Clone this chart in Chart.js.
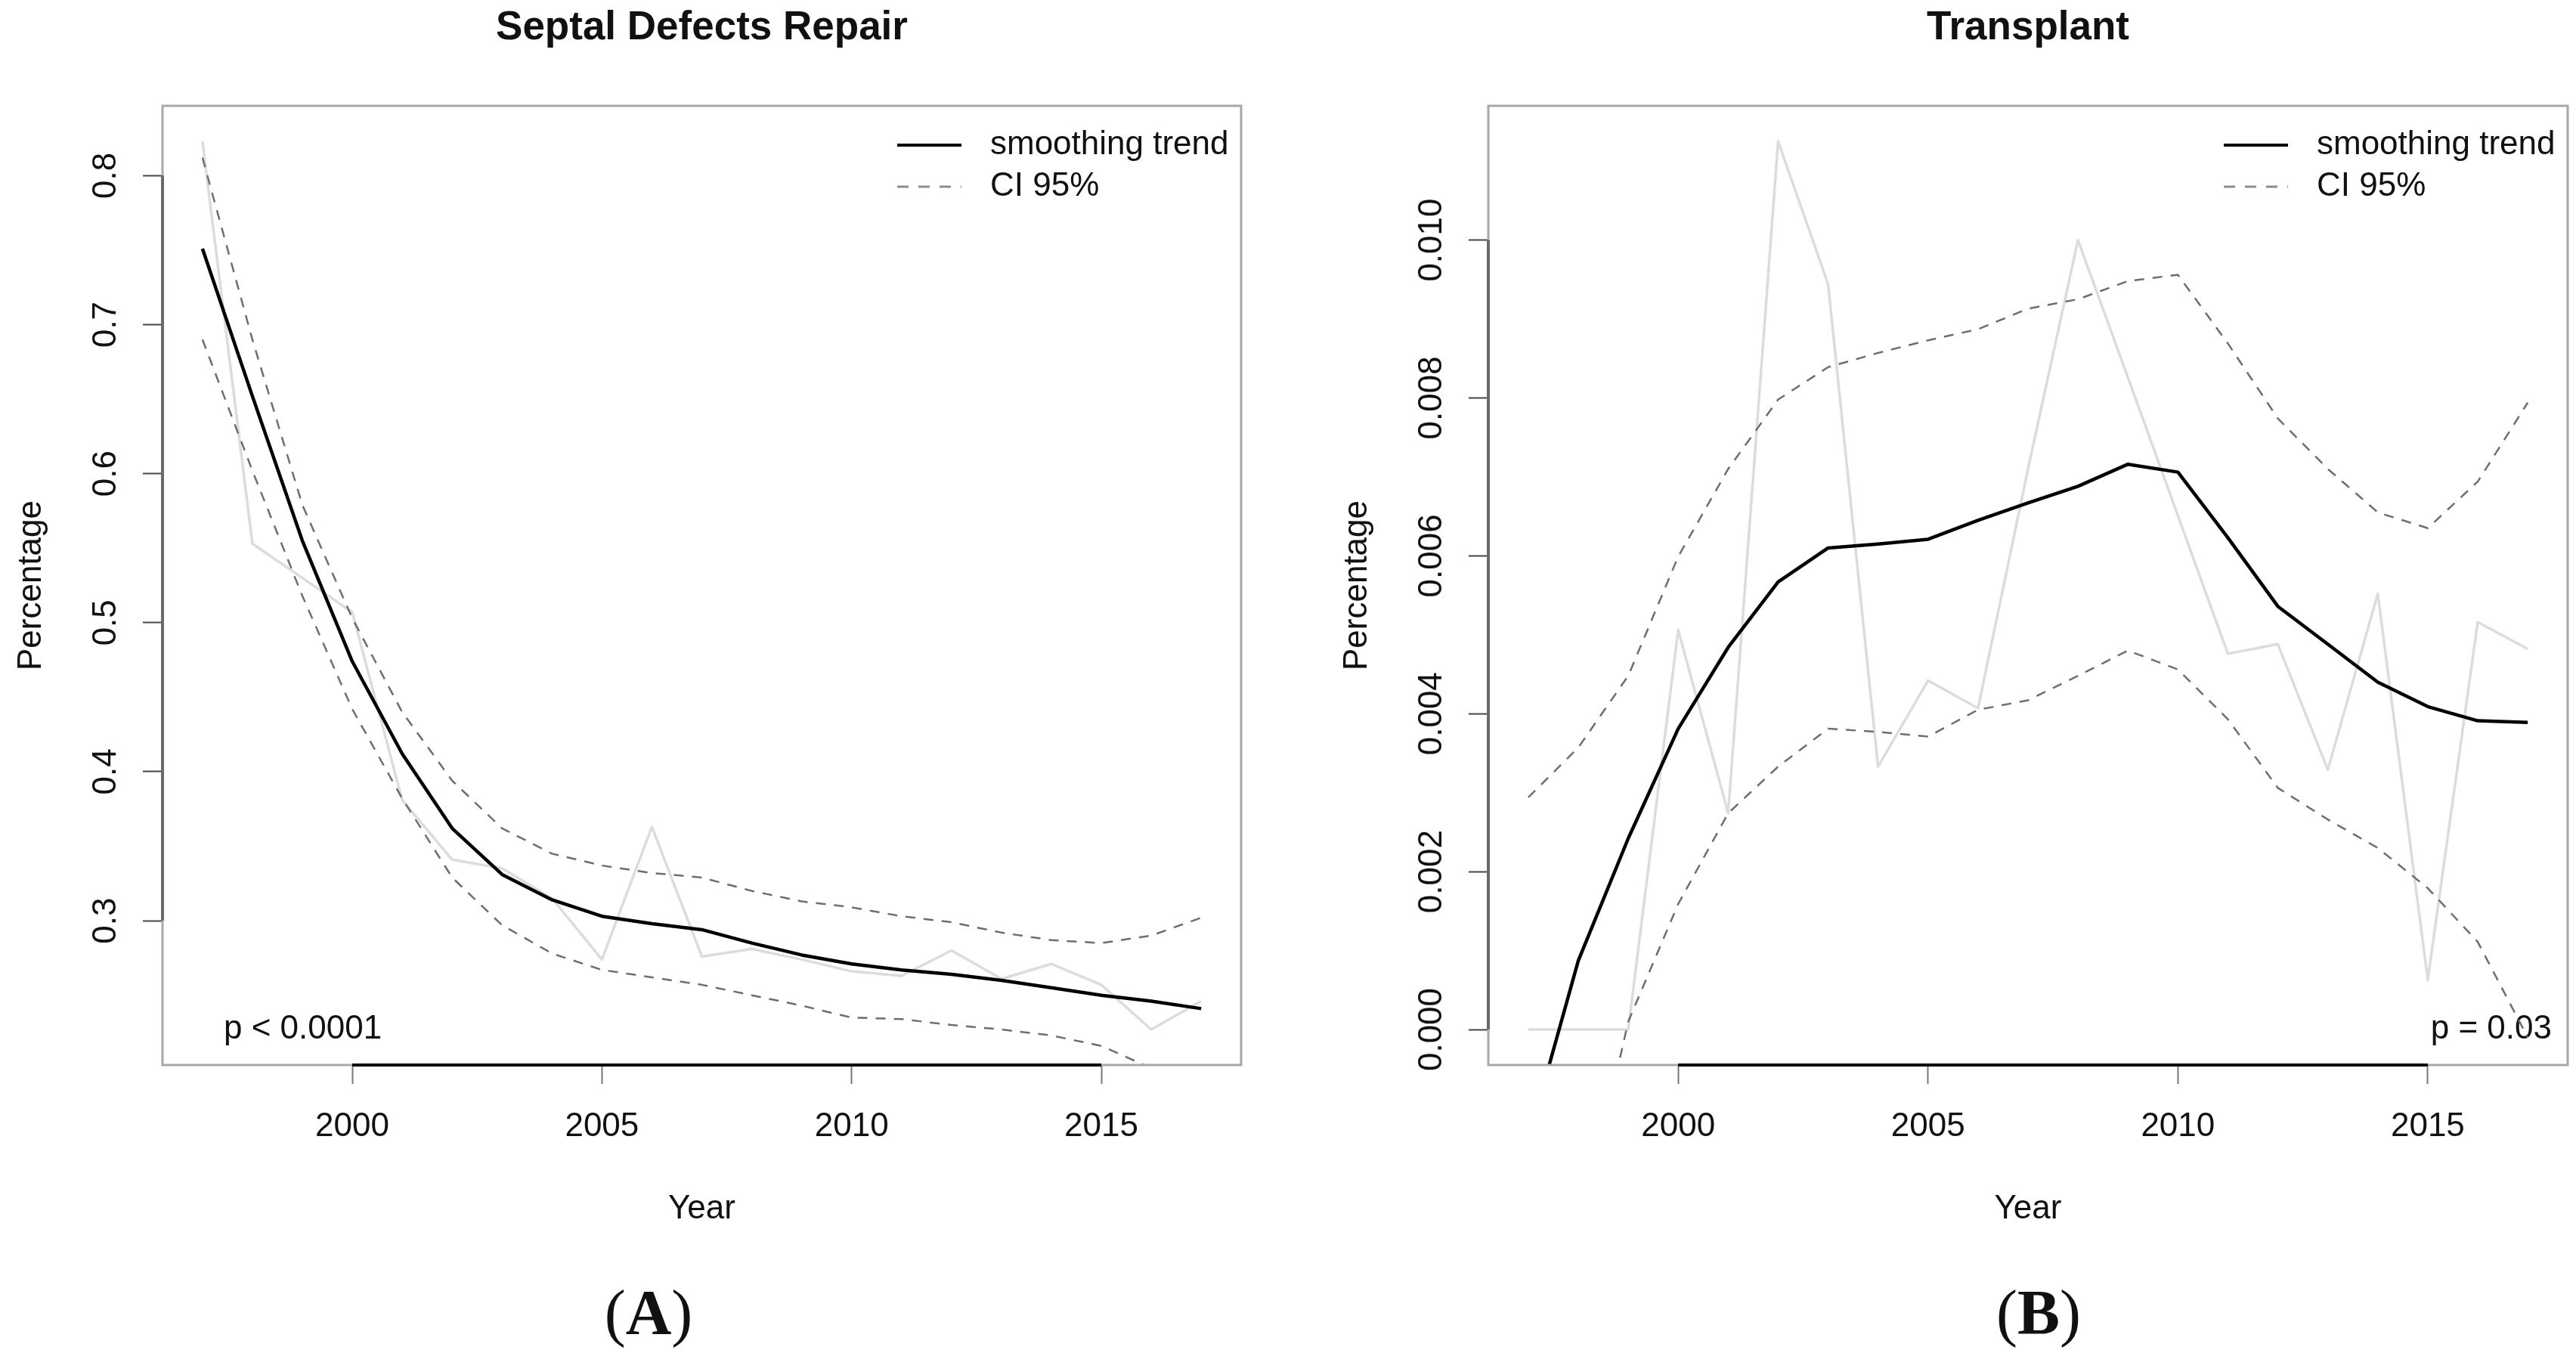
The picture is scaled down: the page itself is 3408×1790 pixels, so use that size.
<!DOCTYPE html>
<html>
<head>
<meta charset="utf-8">
<script src="https://cdn.jsdelivr.net/npm/chart.js@4.4.1/dist/chart.umd.min.js"></script>
<style>
html,body{margin:0;padding:0;background:#fff;}
#wrap{position:relative;width:3408px;height:1790px;background:#fff;}
canvas{position:absolute;top:0;}
#cA{left:0;}
#cB{left:1704px;}
</style>
</head>
<body>
<div id="wrap">
<canvas id="cA" width="1704" height="1790"></canvas>
<canvas id="cB" width="1704" height="1790"></canvas>
</div>
<script>
// ---------- data ----------
const years = [1997,1998,1999,2000,2001,2002,2003,2004,2005,2006,2007,2008,2009,2010,2011,2012,2013,2014,2015,2016,2017];
const xTickStep = 5;
const xTitle = 'Year';
const yTitle = 'Percentage';
const legendLabels = ['smoothing trend', 'CI 95%'];

// Panel A: Septal Defects Repair
const titleA = 'Septal Defects Repair';
const rawA    = [0.823,0.553,0.530,0.507,0.381,0.341,0.335,0.315,0.274,0.363,0.276,0.281,0.274,0.266,0.263,0.280,0.261,0.271,0.257,0.227,0.246];
const smoothA = [0.751,0.652,0.555,0.474,0.412,0.362,0.331,0.314,0.303,0.298,0.294,0.285,0.277,0.271,0.267,0.264,0.260,0.255,0.250,0.246,0.241];
const upperA  = [0.812,0.690,0.579,0.503,0.440,0.394,0.362,0.345,0.337,0.332,0.329,0.320,0.313,0.309,0.303,0.299,0.292,0.287,0.285,0.290,0.302];
const lowerA  = [0.690,0.602,0.518,0.442,0.382,0.329,0.297,0.278,0.267,0.262,0.257,0.250,0.243,0.235,0.234,0.230,0.227,0.223,0.216,0.201,0.180];
const yStepA = 0.1;
const pTextA = 'p < 0.0001';
const panelA = 'A';

// Panel B: Transplant
const titleB = 'Transplant';
const rawB    = [0,0,0,0.00506,0.00274,0.01125,0.00944,0.00333,0.00442,0.00407,0.0071,0.0100,0.00826,0.00651,0.00476,0.00488,0.00329,0.00552,0.00063,0.00516,0.00482];
const smoothB = [-0.0014,0.00087,0.00242,0.00381,0.00484,0.00567,0.00610,0.00615,0.00621,0.00645,0.00667,0.00688,0.00716,0.00706,0.00623,0.00536,0.00488,0.00440,0.00409,0.00391,0.00389];
const upperB  = [0.00294,0.00357,0.00448,0.00599,0.0071,0.00798,0.00839,0.00857,0.00873,0.00887,0.00913,0.00925,0.00948,0.00956,0.00869,0.00774,0.0071,0.00655,0.00635,0.00694,0.00794];
const lowerB  = [-0.0048,-0.0027,0.0001,0.00159,0.00274,0.00333,0.00381,0.00377,0.00371,0.00405,0.00417,0.00448,0.0048,0.00456,0.00393,0.00306,0.00266,0.0023,0.00179,0.00111,-0.0001];
const yStepB = 0.002;
const pTextB = 'p = 0.03';
const panelB = 'B';

// ---------- helpers ----------
const FONT = "'Liberation Sans', Arial, Helvetica, sans-serif";
const SERIF = "'Liberation Serif', 'Times New Roman', serif";
Chart.defaults.font.family = FONT;
Chart.defaults.color = '#111';

function rRange(arr) { // R default axis extension (4%)
  const lo = Math.min(...arr), hi = Math.max(...arr), d = (hi - lo) * 0.04;
  return [lo - d, hi + d];
}
function series(label, vals, color, width, dash, order) {
  return {
    label, data: years.map((x, i) => ({x, y: vals[i]})),
    borderColor: color, borderWidth: width, borderDash: dash,
    pointRadius: 0, tension: 0, fill: false, order,
    borderCapStyle: 'butt', borderJoinStyle: 'round'
  };
}

const rDecor = {
  id: 'rdecor',
  beforeDatasetsDraw(chart, args, o) {
    const {ctx, chartArea: ca} = chart;
    ctx.save();
    ctx.font = '44px ' + FONT;
    ctx.fillStyle = '#111';
    ctx.textBaseline = 'alphabetic';
    ctx.textAlign = o.pAlign;
    const px = o.pAlign === 'left' ? ca.left + 81 : ca.right - 21;
    ctx.fillText(o.pText, px, ca.bottom - 35);
    ctx.restore();
  },
  afterDraw(chart, args, o) {
    const {ctx, chartArea: ca} = chart;
    const xs = chart.scales.x, ys = chart.scales.y;
    ctx.save();
    // box
    ctx.strokeStyle = '#a8a8a8';
    ctx.lineWidth = 3;
    ctx.strokeRect(ca.left, ca.top, ca.right - ca.left, ca.bottom - ca.top);
    // left axis line between first and last tick
    const yt = ys.ticks;
    ctx.strokeStyle = '#6a6a6a';
    ctx.lineWidth = 4;
    ctx.beginPath();
    ctx.moveTo(ca.left, ys.getPixelForValue(yt[0].value));
    ctx.lineTo(ca.left, ys.getPixelForValue(yt[yt.length - 1].value));
    ctx.stroke();
    // bottom axis line between first and last tick
    const xt = xs.ticks;
    ctx.strokeStyle = '#000';
    ctx.lineWidth = 4;
    ctx.beginPath();
    ctx.moveTo(xs.getPixelForValue(xt[0].value), ca.bottom);
    ctx.lineTo(xs.getPixelForValue(xt[xt.length - 1].value), ca.bottom);
    ctx.stroke();
    // y tick labels (rotated, R style)
    ctx.fillStyle = '#111';
    ctx.font = '44px ' + FONT;
    ctx.textAlign = 'center';
    ctx.textBaseline = 'alphabetic';
    yt.forEach(t => {
      const y = ys.getPixelForValue(t.value);
      ctx.save();
      ctx.translate(ca.left - 62, y);
      ctx.rotate(-Math.PI / 2);
      ctx.fillText(Number(t.value).toFixed(o.yDec), 0, 0);
      ctx.restore();
    });
    // y title
    ctx.save();
    ctx.translate(ca.left - 161, (ca.top + ca.bottom) / 2);
    ctx.rotate(-Math.PI / 2);
    ctx.fillText(yTitle, 0, 0);
    ctx.restore();
    // x title
    ctx.fillText(xTitle, (ca.left + ca.right) / 2, ca.bottom + 203);
    // main title
    ctx.font = 'bold 53px ' + FONT;
    ctx.fillText(o.title, (ca.left + ca.right) / 2, 52);
    // legend
    const rows = [ca.top + 52, ca.top + 107];
    ctx.strokeStyle = '#000';
    ctx.lineWidth = 4;
    ctx.beginPath();
    ctx.moveTo(ca.right - 455, rows[0]); ctx.lineTo(ca.right - 370, rows[0]);
    ctx.stroke();
    ctx.strokeStyle = '#8c8c8c';
    ctx.lineWidth = 3;
    ctx.setLineDash([15, 13]);
    ctx.beginPath();
    ctx.moveTo(ca.right - 455, rows[1]); ctx.lineTo(ca.right - 370, rows[1]);
    ctx.stroke();
    ctx.setLineDash([]);
    ctx.font = '44px ' + FONT;
    ctx.textAlign = 'left';
    ctx.textBaseline = 'middle';
    ctx.fillText(legendLabels[0], ca.right - 332, rows[0]);
    ctx.fillText(legendLabels[1], ca.right - 332, rows[1]);
    // panel label "(A)"
    ctx.textBaseline = 'alphabetic';
    const reg = '84px ' + SERIF, bold = 'bold 84px ' + SERIF;
    ctx.font = reg; const wp = ctx.measureText('(').width, wq = ctx.measureText(')').width;
    ctx.font = bold; const wl = ctx.measureText(o.panel).width;
    let x0 = o.panelX - (wp + wl + wq) / 2;
    ctx.font = reg; ctx.fillText('(', x0, 1765);
    ctx.font = bold; ctx.fillText(o.panel, x0 + wp, 1765);
    ctx.font = reg; ctx.fillText(')', x0 + wp + wl, 1765);
    ctx.restore();
  }
};

function makeChart(id, cfg) {
  const xr = rRange(years);
  const yr = rRange(cfg.raw);
  return new Chart(document.getElementById(id), {
    type: 'line',
    data: {
      datasets: [
        series('smoothing trend', cfg.smooth, '#000', 4.5, [], 1),
        series('CI 95% upper', cfg.upper, '#6e6e6e', 2.5, [13, 11], 2),
        series('CI 95% lower', cfg.lower, '#6e6e6e', 2.5, [13, 11], 2),
        series('observed', cfg.raw, '#dcdcdc', 3.5, [], 3)
      ]
    },
    options: {
      responsive: false, animation: false, devicePixelRatio: 1,
      layout: {padding: {top: 140, right: cfg.padRight, bottom: 181, left: 0}},
      plugins: {
        legend: {display: false}, tooltip: {enabled: false},
        rdecor: {title: cfg.title, pText: cfg.pText, pAlign: cfg.pAlign, yDec: cfg.yDec, panel: cfg.panel, panelX: cfg.panelX}
      },
      scales: {
        x: {
          type: 'linear', min: xr[0], max: xr[1],
          afterFit(s) { s.height = 200; },
          border: {display: false},
          grid: {display: true, drawOnChartArea: false, drawTicks: true, tickLength: 25, tickColor: '#777', tickWidth: 2},
          ticks: {stepSize: xTickStep, includeBounds: false, autoSkip: false, maxRotation: 0, minRotation: 0,
                  padding: 30, color: '#111', font: {size: 44}, callback: v => Number(v).toFixed(0)}
        },
        y: {
          type: 'linear', min: yr[0], max: yr[1],
          afterFit(s) { s.width = cfg.yWidth; },
          border: {display: false},
          grid: {display: true, drawOnChartArea: false, drawTicks: true, tickLength: 26, tickColor: '#444', tickWidth: 2},
          ticks: {display: false, stepSize: cfg.yStep, includeBounds: false}
        }
      }
    },
    plugins: [rDecor]
  });
}

makeChart('cA', {raw: rawA, smooth: smoothA, upper: upperA, lower: lowerA, yStep: yStepA, yDec: 1,
  title: titleA, pText: pTextA, pAlign: 'left', panel: panelA, panelX: 858, yWidth: 215, padRight: 62});
makeChart('cB', {raw: rawB, smooth: smoothB, upper: upperB, lower: lowerB, yStep: yStepB, yDec: 3,
  title: titleB, pText: pTextB, pAlign: 'right', panel: panelB, panelX: 993, yWidth: 265, padRight: 11});
</script>
</body>
</html>
